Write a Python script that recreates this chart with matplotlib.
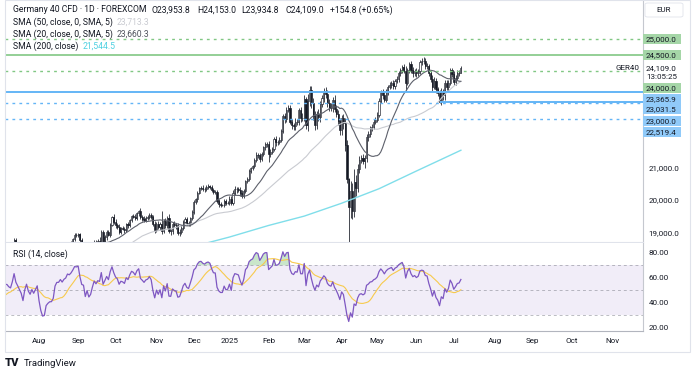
import numpy as np
import pandas as pd
import matplotlib
matplotlib.use('Agg')
import matplotlib.pyplot as plt
from matplotlib.patches import Rectangle, FancyBboxPatch

plt.rcParams['font.family'] = ['Roboto', 'DejaVu Sans']

# daily closes of the GER40 CFD, one list per month (May 2024 .. Jul 2025)
c_2024_05 = [17950, 17896, 18001, 18175, 18430, 18498, 18686, 18773, 18742, 18716,
             18869, 18738, 18704, 18768, 18726, 18680, 18691, 18693, 18775, 18677,
             18473, 18496, 18498]
c_2024_06 = [18608, 18405, 18653, 18653, 18557, 18494, 18369, 18630, 18265, 18002,
             18068, 18131, 18067, 18254, 18163, 18325, 18177, 18155, 18211, 18235]
c_2024_07 = [18290, 18164, 18374, 18450, 18475, 18472, 18429, 18407, 18534, 18748,
             18590, 18518, 18437, 18354, 18171, 18407, 18558, 18387, 18299, 18418,
             18320, 18411, 18509]
c_2024_08 = [18083, 17661, 17339, 17354, 17615, 17680, 17723, 17726, 17812, 18186,
             18320, 18322, 18421, 18357, 18448, 18493, 18633, 18617, 18681, 18782,
             18912, 18907]
c_2024_09 = [18931, 18747, 18592, 18576, 18302, 18443, 18266, 18330, 18518, 18699,
             18633, 18726, 18711, 19002, 18720, 18847, 18997, 18918, 19238, 19474,
             19325]
c_2024_10 = [19213, 19165, 19015, 19121, 19104, 19066, 19254, 19210, 19374, 19508,
             19486, 19432, 19583, 19657, 19461, 19422, 19377, 19443, 19464, 19532,
             19479, 19257, 19078]
c_2024_11 = [19255, 19148, 19256, 19039, 19362, 19215, 19448, 19033, 19024, 19264,
             19211, 19189, 18988, 19005, 19146, 19323, 19405, 19295, 19262, 19426,
             19626]
c_2024_12 = [19934, 20016, 20232, 20359, 20385, 20346, 20329, 20399, 20426, 20406,
             20314, 20246, 20243, 19970, 19885, 19849, 19850, 19984, 19909, 19920]
c_2025_01 = [20025, 19906, 20216, 20340, 20330, 20317, 20215, 20133, 20271, 20575,
             20655, 20903, 20990, 21042, 21254, 21411, 21395, 21282, 21430, 21637,
             21727, 21732]
c_2025_02 = [21428, 21505, 21585, 21902, 21787, 21800, 21875, 22148, 22612, 22514,
             22799, 22844, 22433, 22315, 22287, 22426, 22411, 22794, 22551, 22551]
c_2025_03 = [23147, 22327, 23081, 23419, 23009, 22620, 22329, 22676, 22567, 22987,
             23154, 23380, 23288, 22999, 22892, 22852, 23109, 22839, 22679, 22461,
             22163]
c_2025_04 = [22539, 22390, 21717, 20642, 19790, 20280, 19671, 20563, 20374, 20954,
             21254, 21311, 21206, 21294, 21962, 22065, 22242, 22272, 22425, 22497]
c_2025_05 = [22650, 23087, 23345, 23249, 23116, 23352, 23499, 23567, 23639, 23527,
             23696, 23767, 23935, 24036, 24122, 23999, 23630, 24028, 24226, 24039,
             23934, 23997]
c_2025_06 = [23930, 23994, 24276, 24323, 24305, 24174, 24162, 23949, 23771, 23516,
             23699, 23434, 23317, 23057, 23351, 23269, 23642, 23498, 23649, 24033,
             23910]
c_2025_07 = [23673, 23790, 23930, 23954, 24109]
last_open = 23953.8

# upper / lower wick lengths (points beyond the body)
uw = ([60, 70, 80, 60, 50, 70, 60, 50, 60, 70, 50, 60, 70, 40, 60, 50, 60, 70, 40, 60, 70, 80, 60]
      + [60, 90, 50, 70, 60, 80, 70, 90, 60, 50, 70, 60, 80, 60, 70, 50, 60, 70, 80, 60]
      + [80, 60, 50, 40, 60, 70, 60, 50, 90, 60, 80, 70, 60, 50, 70, 60, 40, 90, 70, 60, 80, 50, 60]
      + [120, 90, 150, 160, 110, 80, 70, 60, 70, 50, 60, 70, 50, 60, 60, 40, 50, 60, 50, 40, 60, 70]
      + [50, 40, 70, 80, 100, 60, 90, 80, 60, 50, 70, 60, 110, 60, 80, 70, 60, 70, 50, 40, 80]
      + [70, 60, 80, 50, 60, 70, 40, 60, 50, 40, 60, 70, 50, 40, 80, 60, 70, 50, 60, 50, 70, 60, 80]
      + [70, 80, 60, 400, 50, 90, 60, 120, 80, 60, 70, 80, 90, 100, 70, 60, 80, 60, 50, 60, 50]
      + [60, 50, 40, 50, 60, 70, 50, 60, 70, 50, 60, 70, 60, 80, 70, 60, 30, 50, 60, 40]
      + [100, 90, 80, 110, 70, 60, 80, 90, 60, 50, 70, 60, 50, 40, 60, 70, 50, 80, 60, 50, 70, 60]
      + [100, 80, 60, 70, 90, 60, 80, 70, 60, 90, 80, 100, 120, 90, 80, 110, 100, 70, 90, 140]
      + [120, 50, 200, 110, 120, 150, 130, 100, 140, 90, 110, 100, 140, 120, 130, 120, 90, 140, 100, 110, 90]
      + [90, 120, 150, 140, 30, 300, 250, 400, 200, 150, 120, 100, 110, 100, 80, 90, 70, 100, 80, 70]
      + [80, 90, 60, 110, 120, 90, 80, 100, 70, 90, 60, 70, 80, 70, 60, 90, 150, 80, 60, 100, 90, 70]
      + [90, 80, 70, 100, 110, 90, 80, 70, 60, 100, 120, 80, 90, 100, 120, 110, 80, 90, 70, 60, 80]
      + [100, 80, 110, 90, 44])
lw_ = ([70, 60, 50, 70, 60, 50, 40, 60, 70, 50, 60, 70, 50, 60, 50, 70, 60, 40, 60, 70, 80, 60, 70]
       + [70, 50, 80, 60, 90, 50, 80, 60, 70, 60, 50, 70, 60, 50, 80, 60, 70, 60, 50, 70]
       + [60, 90, 50, 70, 40, 60, 70, 80, 50, 60, 40, 70, 80, 60, 90, 60, 70, 50, 80, 60, 50, 70, 60]
       + [140, 180, 320, 150, 90, 100, 80, 70, 80, 60, 40, 60, 50, 70, 50, 60, 40, 50, 60, 70, 40, 60]
       + [60, 70, 80, 60, 60, 80, 60, 90, 40, 60, 50, 70, 60, 50, 60, 60, 90, 50, 60, 60, 60]
       + [80, 60, 70, 60, 50, 80, 60, 70, 60, 50, 60, 50, 60, 70, 50, 60, 70, 60, 50, 60, 70, 60, 90]
       + [80, 60, 70, 80, 60, 70, 80, 50, 120, 70, 60, 80, 70, 100, 60, 80, 50, 70, 80, 60, 40]
       + [50, 60, 70, 60, 50, 60, 70, 50, 60, 70, 60, 50, 70, 60, 90, 70, 30, 60, 50, 40]
       + [90, 70, 60, 60, 110, 80, 90, 70, 80, 60, 50, 60, 70, 60, 50, 60, 90, 100, 60, 70, 80, 70]
       + [250, 90, 80, 70, 110, 90, 70, 60, 80, 120, 90, 80, 70, 110, 100, 120, 90, 80, 120, 110]
       + [100, 130, 180, 150, 160, 120, 170, 130, 110, 140, 90, 100, 130, 110, 120, 100, 110, 120, 100, 130, 140]
       + [150, 200, 200, 120, 1300, 350, 250, 200, 250, 120, 110, 90, 100, 200, 100, 120, 110, 90, 70, 80]
       + [60, 70, 90, 100, 80, 70, 100, 60, 90, 80, 70, 60, 100, 80, 90, 60, 220, 70, 80, 100, 120, 80]
       + [100, 90, 80, 70, 80, 120, 90, 100, 110, 130, 80, 100, 90, 40, 110, 160, 150, 90, 100, 70, 90]
       + [90, 110, 70, 80, 19])

# 200-day SMA
sma200_dates = ['2024-11-01', '2024-12-02', '2025-01-02', '2025-02-03', '2025-03-03',
                '2025-04-01', '2025-05-02', '2025-06-02', '2025-07-07']
sma200_vals = [18300, 18560, 18850, 19210, 19500, 19900, 20350, 20900, 21545]

green_levels = [25000.0, 24500.0, 24000.0]
blue_levels = [23365.9, 23031.5, 23000.0, 22519.4]
holidays = ['2024-12-25', '2024-12-26', '2025-01-01', '2025-04-18', '2025-04-21',
            '2025-12-25', '2025-12-26']
ohlc_text = ['O23,953.8', 'H24,153.0', 'L23,934.8', 'C24,109.0', '+154.8 (+0.65%)']

ink = '#131722'
green, green_box = '#81C784', '#A5D6A7'
blue, blue_box = '#64B5F6', '#90CAF9'
fs = 6.2

closes = np.array(c_2024_05 + c_2024_06 + c_2024_07 + c_2024_08 + c_2024_09 + c_2024_10
                  + c_2024_11 + c_2024_12 + c_2025_01 + c_2025_02 + c_2025_03 + c_2025_04
                  + c_2025_05 + c_2025_06 + c_2025_07, dtype=float)
n = len(closes)
days = pd.bdate_range('2024-05-01', '2025-12-31')
days = days[~days.isin(pd.to_datetime(holidays))]
pos = pd.Series(np.arange(len(days)), index=days)
x = np.arange(n)

opens = np.r_[closes[0], closes[:-1]]
opens[-1] = last_open
highs = np.maximum(opens, closes) + np.array(uw)
lows = np.minimum(opens, closes) - np.array(lw_)

cs = pd.Series(closes)
sma20 = cs.rolling(20).mean()
sma50 = cs.rolling(50).mean()
d = cs.diff()
ag = d.clip(lower=0).ewm(alpha=1 / 14, adjust=False).mean()
al = (-d.clip(upper=0)).ewm(alpha=1 / 14, adjust=False).mean()
rsi = 100 - 100 / (1 + ag / al)
rsi_ma = rsi.rolling(14).mean()
sma200_x = pos[pd.to_datetime(sma200_dates)].values

W, H = 700, 377
fig = plt.figure(figsize=(W / 100, H / 100), dpi=100)
fig.patch.set_facecolor('white')


def box(x0, y0, x1, y1):
    return [x0 / W, 1 - y1 / H, (x1 - x0) / W, (y1 - y0) / H]


ax = fig.add_axes(box(5, 0, 643, 242))
axr = fig.add_axes(box(5, 243, 643, 331), sharex=ax)
aug1 = pos[pd.Timestamp('2024-08-01')]
xlim = (aug1 - 19.1, aug1 + 339.3)

# candles
up = closes >= opens
ax.vlines(x, lows, highs, color=ink, lw=0.55, zorder=2)
ax.bar(x[up], (closes - opens)[up], bottom=opens[up], width=0.62, color='white',
       edgecolor=ink, lw=0.45, zorder=3)
ax.bar(x[~up], (closes - opens)[~up], bottom=opens[~up], width=0.62, color=ink,
       edgecolor=ink, lw=0.45, zorder=3)

ax.plot(x, sma50, color='#C9CBD1', lw=0.8, zorder=4)
ax.plot(x, sma20, color='#5D606B', lw=0.8, zorder=4)
ax.plot(sma200_x, sma200_vals, color='#80DEEA', lw=1.0, zorder=4)

dotted = (0, (2, 3))
ax.axhline(green_levels[0], color=green, lw=1.0, ls=dotted, zorder=5)
ax.axhline(green_levels[1], color=green, lw=1.2, zorder=5)
ax.axhline(green_levels[2], color=green, lw=1.0, ls=dotted, zorder=5)
ax.axhline(blue_levels[0], color=blue, lw=1.4, zorder=5)
ax.hlines(blue_levels[1], pos[pd.Timestamp('2025-06-19')], xlim[1], color=blue, lw=1.4, zorder=5)
ax.axhline(blue_levels[2], color=blue, lw=1.0, ls=dotted, zorder=5)
ax.axhline(blue_levels[3], color=blue, lw=1.0, ls=dotted, zorder=5)

ax.set_xlim(*xlim)
ax.set_ylim(18696, 26211)
ax.yaxis.tick_right()
ax.set_yticks([19000, 20000, 21000])
ax.set_yticklabels([f'{v:,.1f}' for v in [19000, 20000, 21000]])
ax.tick_params(axis='y', length=0, pad=4, labelsize=5.8, labelcolor=ink)
ax.tick_params(axis='x', length=0, labelbottom=False)
for s in ['top', 'left']:
    ax.spines[s].set_visible(False)
ax.spines['right'].set_color('#C5C8CF')
ax.spines['bottom'].set_color('#E0E3EB')

# RSI pane
axr.axhspan(30, 70, color='#7E57C2', alpha=0.1, lw=0)
for lv in [70, 50, 30]:
    axr.axhline(lv, color='#787B86', alpha=0.5, lw=0.7, ls=(0, (3, 3)))
axr.fill_between(x, rsi, 70, where=rsi > 70, color='#A5D6A7', alpha=0.6, lw=0, interpolate=True)
axr.fill_between(x, rsi, 30, where=rsi < 30, color='#EF9A9A', alpha=0.6, lw=0, interpolate=True)
axr.plot(x, rsi_ma, color='#F7CA4D', lw=0.8)
axr.plot(x, rsi, color='#7E57C2', lw=0.9)
axr.set_ylim(16.8, 88.1)
axr.yaxis.tick_right()
axr.set_yticks([20, 40, 60, 80])
axr.set_yticklabels([f'{v:.2f}' for v in [20, 40, 60, 80]])
axr.tick_params(axis='y', length=0, pad=4, labelsize=5.8, labelcolor=ink)

firsts = pos.groupby([days.year, days.month]).first()
mt, ml = [], []
for (yy, mm), p in firsts.items():
    mt.append(p)
    ml.append(str(yy) if mm == 1 else pd.Timestamp(yy, mm, 1).strftime('%b'))
axr.set_xticks(mt)
axr.set_xticklabels(ml)
axr.tick_params(axis='x', length=0, pad=5, labelsize=5.8, labelcolor=ink)
axr.set_xlim(*xlim)
for s in ['top', 'left']:
    axr.spines[s].set_visible(False)
axr.spines['right'].set_color('#C5C8CF')
axr.spines['bottom'].set_color('#B2B5BE')


# price-scale labels
def label_y(v):
    return H - ax.transData.transform((0, v))[1]


def price_box(v, shift, fc):
    yc = label_y(v) + shift
    fig.add_artist(Rectangle((643 / W, 1 - (yc + 5.2) / H), 38 / W, 10.4 / H,
                             transform=fig.transFigure, fc=fc, ec='none', zorder=10))
    fig.text(646 / W, 1 - yc / H, f'{v:,.1f}', fontsize=5.8, color=ink, va='center',
             ha='left', zorder=11)


for v, sh in zip(green_levels, [0, 0, 17]):
    price_box(v, sh, green_box)
for v, sh in zip(blue_levels, [7.5, 6.5, 17.5, 13]):
    price_box(v, sh, blue_box)

yc = label_y(closes[-1])
fig.text(646 / W, 1 - yc / H, f'{closes[-1]:,.1f}', fontsize=5.8, color=ink, va='center')
fig.text(646 / W, 1 - (yc + 9) / H, '13:05:25', fontsize=5.8, color=ink, va='center')
fig.text(639 / W, 1 - yc / H, 'GER40', fontsize=5.8, color=ink, va='center', ha='right')

fig.add_artist(FancyBboxPatch((645 / W, 1 - 17 / H), 38 / W, 14 / H,
                              boxstyle='round,pad=0,rounding_size=0.004',
                              transform=fig.transFigure, fc='white', ec='#E0E3EB', lw=0.6))
fig.text(664 / W, 1 - 10 / H, 'EUR', fontsize=5.8, color=ink, va='center', ha='center')

# legends
fig.text(13 / W, 1 - 10 / H, 'Germany 40 CFD · 1D · FOREXCOM', fontsize=fs, color=ink, va='center')
t = fig.text(152 / W, 1 - 10 / H, ohlc_text[0], fontsize=fs, color=ink, va='center')
for s in ohlc_text[1:]:
    t = ax.annotate(s, xy=(1, 0.5), xycoords=t, xytext=(6, 0), textcoords='offset pixels',
                    fontsize=fs, color=ink, va='center')


def legend(y, name, vals):
    t = fig.text(13 / W, 1 - y / H, name, fontsize=fs, color=ink, va='center')
    for val, col in vals:
        t = ax.annotate(val, xy=(1, 0.5), xycoords=t, xytext=(4, 0),
                        textcoords='offset pixels', fontsize=fs, color=col, va='center')


legend(22, 'SMA (50, close, 0, SMA, 5)', [('23,713.3', '#C9CBD1')])
legend(34, 'SMA (20, close, 0, SMA, 5)', [('23,660.3', '#50535E')])
legend(46, 'SMA (200, close)', [('21,544.5', '#4DD0E1')])
legend(254, 'RSI (14, close)', [('57.89', '#7E57C2'), ('51.41', '#F7C52B')])

# frame and footer
fig.add_artist(Rectangle((5 / W, 1 - 352 / H), 685 / W, 352 / H, transform=fig.transFigure,
                         fc='none', ec='#E0E3EB', lw=0.8))
fig.text(5 / W, 1 - 363 / H, 'TV', fontsize=8, fontweight='heavy', color=ink, va='center')
fig.text(24 / W, 1 - 363 / H, 'TradingView', fontsize=6.8, color=ink, va='center')

fig.savefig('out.png', dpi=100)
